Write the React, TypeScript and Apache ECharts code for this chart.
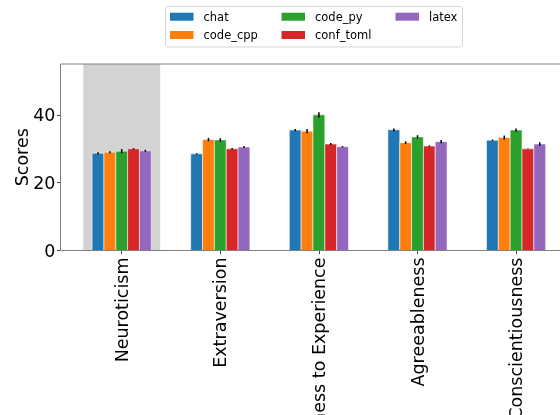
import React, { useEffect, useRef } from "react";
import * as echarts from "echarts";

const categories = ["Neuroticism", "Extraversion", "Openness to Experience", "Agreeableness", "Conscientiousness"];
const seriesNames = ["chat", "code_cpp", "code_py", "conf_toml", "latex"];
const colors = ["#1f77b4", "#ff7f0e", "#2ca02c", "#d62728", "#9467bd"];

const chatValues = [28.7, 28.5, 35.5, 35.6, 32.5];
const codeCppValues = [29.0, 32.7, 35.2, 31.8, 33.3];
const codePyValues = [29.3, 32.6, 40.0, 33.5, 35.5];
const confTomlValues = [30.0, 30.0, 31.4, 30.8, 30.0];
const latexValues = [29.4, 30.5, 30.6, 32.1, 31.4];

const chatErrors = [0.3, 0.2, 0.3, 0.4, 0.2];
const codeCppErrors = [0.3, 0.5, 0.6, 0.4, 0.6];
const codePyErrors = [0.6, 0.5, 0.8, 0.5, 0.5];
const confTomlErrors = [0.2, 0.2, 0.3, 0.2, 0.1];
const latexErrors = [0.3, 0.3, 0.2, 0.5, 0.5];

const yTicks = [0, 20, 40];
const yMax = 55;
const highlightedCategory = "Neuroticism";

const allValues = [chatValues, codeCppValues, codePyValues, confTomlValues, latexValues];
const allErrors = [chatErrors, codeCppErrors, codePyErrors, confTomlErrors, latexErrors];

export default function App() {
  const ref = useRef<HTMLDivElement>(null);
  useEffect(() => {
    if (!ref.current) return;
    const chart = echarts.init(ref.current, undefined, { renderer: "svg" });
    const font = "DejaVu Sans";
    const barSeries = seriesNames.map((name, s) => ({
      name,
      type: "custom",
      z: 3,
      itemStyle: { color: colors[s] },
      encode: { x: 0, y: 1 },
      data: allValues[s].map((v, i) => [i, v, allErrors[s][i]]),
      renderItem: (params: any, api: any) => {
        const ci = api.value(0);
        const v = api.value(1);
        const e = api.value(2);
        const base = api.coord([ci, 0]);
        const top = api.coord([ci, v]);
        const band = api.size([1, 0])[0];
        const w = band * 0.12;
        const cx = base[0] + (s - 2) * w;
        const yHi = api.coord([ci, v + e])[1];
        const yLo = api.coord([ci, v - e])[1];
        return {
          type: "group",
          children: [
            {
              type: "rect",
              shape: { x: cx - w / 2, y: top[1], width: w, height: base[1] - top[1] },
              style: { fill: colors[s], stroke: "rgba(255,255,255,0.7)", lineWidth: 0.8 },
            },
            {
              type: "line",
              shape: { x1: cx, y1: yHi, x2: cx, y2: yLo },
              style: { stroke: "#000", lineWidth: 1.5 },
            },
          ],
        };
      },
    }));
    const hIdx = categories.indexOf(highlightedCategory);
    const option: any = {
      animation: false,
      textStyle: { fontFamily: font },
      grid: { left: 72.4, top: 64, width: 493, height: 186.5, containLabel: false, outerBoundsMode: "none" },
      legend: [
        { names: [seriesNames[0], seriesNames[1]], left: 170 },
        { names: [seriesNames[2], seriesNames[3]], left: 281.5 },
        { names: [seriesNames[4]], left: 395.5 },
      ].map((l) => ({
        data: l.names,
        left: l.left,
        top: 10.2,
        padding: 0,
        orient: "vertical",
        icon: "rect",
        itemWidth: 23.5,
        itemHeight: 8,
        itemGap: 5.3,
        selectedMode: false,
        textStyle: { fontFamily: font, fontSize: 11.5, color: "#000", lineHeight: 13, padding: [0, 0, 0, 5] },
      })),
      xAxis: {
        type: "category",
        data: categories,
        boundaryGap: true,
        axisLine: { show: false },
        axisTick: { show: true, alignWithLabel: true, length: 3.5, lineStyle: { color: "#444" } },
        axisLabel: { rotate: 90, interval: 0, margin: 7, fontSize: 17.5, color: "#000", fontFamily: font },
        splitLine: { show: false },
      },
      yAxis: {
        type: "value",
        min: 0,
        max: yMax,
        offset: 11.9,
        name: "Scores",
        nameLocation: "middle",
        nameGap: 30,
        nameMoveOverlap: false,
        nameTextStyle: { fontSize: 17.5, color: "#000", fontFamily: font },
        axisLine: { show: false },
        axisTick: { show: true, length: 3.5, customValues: yTicks, lineStyle: { color: "#444" } },
        axisLabel: { fontSize: 17.5, color: "#000", margin: 5, fontFamily: font, customValues: yTicks },
        splitLine: { show: false },
      },
      graphic: [
        {
          type: "rect",
          z: 0,
          shape: { x: 165.5, y: 6.5, width: 297, height: 40.5, r: 3 },
          style: { fill: "#fff", stroke: "#d5d5d5", lineWidth: 1 },
        },
        {
          type: "rect",
          z: 10,
          shape: { x: 60.5, y: 64, width: 520, height: 186.5 },
          style: { fill: "none", stroke: "#808080", lineWidth: 1 },
        },
      ],
      series: [
        {
          name: "highlight",
          type: "custom",
          z: 1,
          silent: true,
          data: [[hIdx]],
          encode: { x: 0 },
          renderItem: (params: any, api: any) => {
            const ci = api.value(0);
            const bottom = api.coord([ci, 0]);
            const top = api.coord([ci, yMax]);
            const band = api.size([1, 0])[0];
            const w = band * 0.78;
            return {
              type: "rect",
              shape: { x: bottom[0] - w / 2, y: top[1], width: w, height: bottom[1] - top[1] },
              style: { fill: "#d3d3d3" },
            };
          },
        },
        ...barSeries,
      ],
    };
    chart.setOption(option);
    return () => chart.dispose();
  }, []);
  return <div ref={ref} style={{ position: "fixed", left: 0, top: 0, width: 560, height: 415 }} />;
}
